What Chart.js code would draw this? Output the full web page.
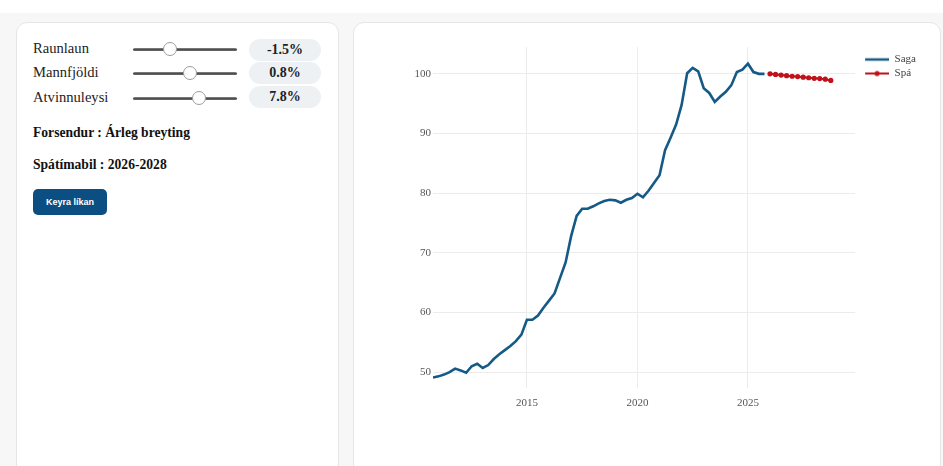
<!DOCTYPE html>
<html>
<head>
<meta charset="utf-8">
<script src="https://cdn.jsdelivr.net/npm/chart.js@4"></script>
<style>
  html, body { margin:0; padding:0; width:943px; height:466px; overflow:hidden; background:#fff; }
  #bg { position:absolute; left:0; top:13px; width:943px; height:453px; background:#f7f7f7; }
  .card { position:absolute; background:#fff; border:1px solid #e6e6e6; border-radius:11px; box-sizing:border-box; }
  #left { left:16px; top:22px; width:323px; height:470px; }
  #right { left:353px; top:22px; width:588px; height:470px; }
  .lbl { position:absolute; left:33px; font-family:"Liberation Serif", serif; font-size:14.6px; color:#222; }
  .track { position:absolute; left:133px; width:104px; height:3px; border-radius:2px; background:linear-gradient(#8a8a8a,#444 60%,#777); }
  .thumb { position:absolute; width:14px; height:14px; border-radius:50%; background:#fff; border:1px solid #9c9c9c; box-sizing:border-box; }
  .pill { position:absolute; left:249px; width:72px; height:22px; border-radius:11px; background:#eef1f4; font-family:"Liberation Serif", serif; font-weight:bold; font-size:14px; color:#222; text-align:center; line-height:22px; }
  .hd { position:absolute; left:33px; font-family:"Liberation Serif", serif; font-weight:bold; font-size:13.6px; color:#111; }
  #btn { position:absolute; left:33px; top:189px; width:74px; height:26px; border-radius:5px; background:#0b4f82; color:#fff; font-family:"Liberation Sans", Arial, sans-serif; font-weight:bold; font-size:9px; text-align:center; line-height:26px; }
  #wrap { position:absolute; left:353px; top:22px; width:587px; height:444px; }
</style>
</head>
<body>
<div id="bg"></div>
<div class="card" id="left"></div>
<div class="card" id="right"></div>

<div class="lbl" style="top:40px">Raunlaun</div>
<div class="track" style="top:48px"></div>
<div class="thumb" style="left:163px; top:42px"></div>
<div class="pill" style="top:39px">-1.5%</div>

<div class="lbl" style="top:64px">Mannfjöldi</div>
<div class="track" style="top:72px"></div>
<div class="thumb" style="left:183px; top:66px"></div>
<div class="pill" style="top:62px">0.8%</div>

<div class="lbl" style="top:89px">Atvinnuleysi</div>
<div class="track" style="top:97px"></div>
<div class="thumb" style="left:192px; top:91px"></div>
<div class="pill" style="top:86px">7.8%</div>

<div class="hd" style="top:125px">Forsendur : Árleg breyting</div>
<div class="hd" style="top:157px">Spátímabil : 2026-2028</div>
<div id="btn">Keyra líkan</div>

<div id="wrap"><canvas id="c" width="587" height="444"></canvas></div>

<script>
const sagaPeriods = [2010.75,
  2011.0,2011.25,2011.5,2011.75, 2012.0,2012.25,2012.5,2012.75,
  2013.0,2013.25,2013.5,2013.75, 2014.0,2014.25,2014.5,2014.75,
  2015.0,2015.25,2015.5,2015.75, 2016.0,2016.25,2016.5,2016.75,
  2017.0,2017.25,2017.5,2017.75, 2018.0,2018.25,2018.5,2018.75,
  2019.0,2019.25,2019.5,2019.75, 2020.0,2020.25,2020.5,2020.75,
  2021.0,2021.25,2021.5,2021.75, 2022.0,2022.25,2022.5,2022.75,
  2023.0,2023.25,2023.5,2023.75, 2024.0,2024.25,2024.5,2024.75,
  2025.0,2025.25,2025.5,2025.75];
const sagaValues = [49.1,
  49.3,49.6,50.0,50.6, 50.3,49.9,51.0,51.4,
  50.7,51.2,52.2,53.0, 53.7,54.4,55.2,56.3,
  58.8,58.8,59.5,60.8, 62.0,63.2,65.8,68.4,
  72.8,76.2,77.4,77.4, 77.8,78.3,78.7,78.9,
  78.8,78.4,78.9,79.2, 79.9,79.3,80.4,81.7,
  83.0,87.2,89.3,91.5, 94.8,100.1,101.0,100.4,
  97.6,96.8,95.3,96.2, 97.0,98.1,100.3,100.7,
  101.7,100.3,100.0,100.0];
const spaPeriods = [2026.0,2026.25,2026.5,2026.75, 2027.0,2027.25,2027.5,2027.75, 2028.0,2028.25,2028.5,2028.75];
const spaValues = [100.0,99.9,99.8,99.7, 99.6,99.55,99.45,99.35, 99.25,99.2,99.1,98.9];
const xTickYears = [2015, 2020, 2025];
const yTickValues = [50, 60, 70, 80, 90, 100];
const seriesNames = ['Saga', 'Spá'];

const BLUE = '#155a86';
const RED = '#c0121b';
const SERIF = '"Liberation Serif", serif';

function legendIcon(color, withDot) {
  const cv = document.createElement('canvas');
  cv.width = 31; cv.height = 8;
  const g = cv.getContext('2d');
  g.strokeStyle = color; g.lineWidth = withDot ? 2 : 2.5;
  g.beginPath(); g.moveTo(7, 4); g.lineTo(31, 4); g.stroke();
  if (withDot) { g.fillStyle = color; g.beginPath(); g.arc(19, 4, 2.6, 0, Math.PI * 2); g.fill(); }
  return cv;
}
const icons = [legendIcon(BLUE, false), legendIcon(RED, true)];

new Chart(document.getElementById('c'), {
  type: 'line',
  data: {
    datasets: [
      { label: seriesNames[0], data: sagaPeriods.map((x, i) => ({ x, y: sagaValues[i] })),
        borderColor: BLUE, backgroundColor: BLUE, borderWidth: 2.6, pointRadius: 0, tension: 0 },
      { label: seriesNames[1], data: spaPeriods.map((x, i) => ({ x, y: spaValues[i] })),
        borderColor: RED, backgroundColor: RED, borderWidth: 2, pointRadius: 2.6, pointBorderWidth: 0, tension: 0 }
    ]
  },
  options: {
    responsive: false, animation: false,
    layout: { padding: { top: 25, right: 14, bottom: 0, left: 0 } },
    plugins: {
      tooltip: { enabled: false },
      legend: {
        position: 'right', align: 'start',
        title: { display: true, text: '', padding: 0, font: { size: 4, lineHeight: 1 } },
        labels: {
          usePointStyle: true, pointStyleWidth: 31, padding: 3,
          font: { family: SERIF, size: 11 }, color: '#444',
          generateLabels: (chart) => chart.data.datasets.map((d, i) => ({
            text: d.label, pointStyle: icons[i], fillStyle: 'transparent', strokeStyle: 'transparent',
            lineWidth: 0, fontColor: '#444', datasetIndex: i, hidden: false
          }))
        }
      }
    },
    scales: {
      x: {
        type: 'linear', min: 2010.75, max: 2029.85,
        afterBuildTicks: (s) => { s.ticks = xTickYears.map(v => ({ value: v })); },
        afterFit: (s) => { s.height = 78; },
        grid: { color: '#ececec', lineWidth: 1, drawTicks: false },
        border: { display: false },
        ticks: { font: { family: SERIF, size: 11 }, color: '#555', padding: 9, callback: (v) => String(v), maxRotation: 0 }
      },
      y: {
        min: 47.35, max: 104.5,
        afterBuildTicks: (s) => { s.ticks = yTickValues.map(v => ({ value: v })); },
        afterFit: (s) => { s.width = 80; },
        grid: { color: '#ececec', lineWidth: 1, drawTicks: false },
        border: { display: false },
        ticks: { font: { family: SERIF, size: 11 }, color: '#555', padding: 2 }
      }
    }
  }
});
</script>
</body>
</html>
